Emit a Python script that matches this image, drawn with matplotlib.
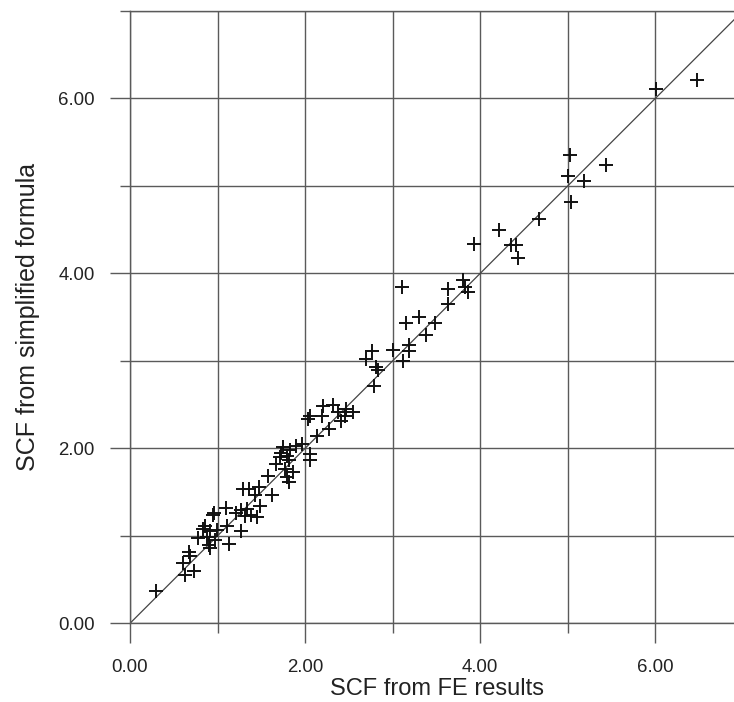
import matplotlib
matplotlib.use("Agg")
import matplotlib.pyplot as plt
from matplotlib.ticker import MultipleLocator, FormatStrFormatter

# SCF
fe_scf = [0.30, 0.63, 0.61, 0.73, 0.67, 0.68, 0.78, 0.83, 0.86, 0.91,
          0.90, 0.88, 0.97, 0.91, 0.95, 0.96, 0.99, 1.13, 1.11, 1.27,
          1.10, 1.21, 1.27, 1.34, 1.31, 1.38, 1.45, 1.48, 1.285, 1.36,
          1.43, 1.475, 1.62, 1.58, 1.665, 1.77, 1.79, 1.86, 1.81, 1.71,
          1.75, 1.79, 1.73, 1.81, 1.90, 1.96, 1.83, 2.06, 2.06, 2.13,
          2.27, 2.03, 2.06, 2.19, 2.20, 2.32, 2.375, 2.41, 2.47, 2.55,
          2.45, 2.79, 2.70, 2.76, 2.81, 2.83, 3.00, 3.12, 3.19, 3.19,
          3.15, 3.30, 3.48, 3.38, 3.11, 3.63, 3.63, 3.80, 3.82, 3.86,
          3.93, 4.21, 4.35, 4.41, 4.43, 4.67, 5.04, 5.00, 5.02, 5.19,
          5.43, 6.01, 6.47]
formula_scf = [0.37, 0.55, 0.69, 0.60, 0.81, 0.77, 0.975, 1.08, 1.11, 1.05,
               0.90, 0.99, 0.955, 0.86, 1.24, 1.26, 1.07, 0.905, 1.11, 1.05,
               1.32, 1.26, 1.30, 1.31, 1.23, 1.24, 1.22, 1.345, 1.53, 1.53,
               1.47, 1.56, 1.47, 1.68, 1.815, 1.76, 1.67, 1.73, 1.61, 1.90,
               2.01, 1.91, 1.95, 1.87, 2.03, 2.05, 1.98, 1.94, 1.87, 2.14,
               2.22, 2.33, 2.37, 2.37, 2.48, 2.50, 2.41, 2.31, 2.45, 2.41,
               2.37, 2.71, 3.02, 3.11, 2.93, 2.89, 3.12, 3.00, 3.11, 3.18,
               3.43, 3.50, 3.43, 3.29, 3.84, 3.65, 3.82, 3.92, 3.84, 3.79,
               4.33, 4.50, 4.32, 4.32, 4.18, 4.62, 4.82, 5.11, 5.35, 5.06,
               5.24, 6.11, 6.21]

line_col = "#5a5a5a"
text_col = "#222222"

fig = plt.figure(figsize=(7.34, 7.02), dpi=100)
# axes run past the right edge, like the cropped scan
ax = fig.add_axes([130 / 734, 78.7 / 702, 613 / 734, 612.5 / 702])

ax.set_xlim(0, 7)
ax.set_ylim(0, 7)
ax.xaxis.set_major_locator(MultipleLocator(2))
ax.xaxis.set_minor_locator(MultipleLocator(1))
ax.yaxis.set_major_locator(MultipleLocator(2))
ax.yaxis.set_minor_locator(MultipleLocator(1))
ax.xaxis.set_major_formatter(FormatStrFormatter("%.2f"))
ax.yaxis.set_major_formatter(FormatStrFormatter("%.2f"))

ax.grid(True, which="both", color=line_col, linewidth=1.0)
ax.set_axisbelow(True)
for s in ax.spines.values():
    s.set_color(line_col)
    s.set_linewidth(1.0)
ax.spines["right"].set_visible(False)

ax.tick_params(which="major", direction="out", length=14.5, width=1.0,
               color=line_col, pad=11, labelsize=13.4, labelcolor=text_col)
ax.tick_params(which="minor", direction="out", length=7, width=1.0,
               color=line_col)
for lab in ax.get_xticklabels() + ax.get_yticklabels():
    lab.set_family("Liberation Sans")

ax.plot([0, 7.5], [0, 7.5], color="#444444", linewidth=0.9)
ax.plot(fe_scf, formula_scf, linestyle="none", marker="+", markersize=10,
        markeredgewidth=1.4, color="#111111")

ax.set_xlabel("SCF from FE results", family="Liberation Sans", fontsize=17,
              color=text_col, labelpad=2)
ax.set_ylabel("SCF from simplified formula", family="Liberation Sans",
              fontsize=18, color=text_col, labelpad=13)

fig.savefig("out.png", dpi=100)
